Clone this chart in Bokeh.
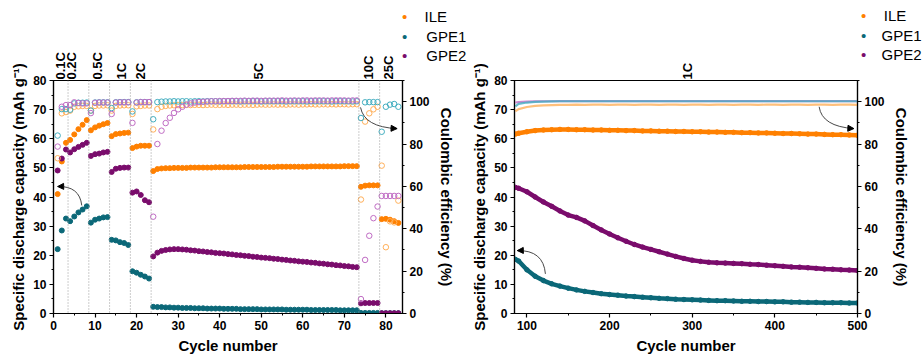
import numpy as np
from bokeh.plotting import figure
from bokeh.models import (Range1d, LinearAxis, SingleIntervalTicker, FixedTicker, Span,
                          Arrow, NormalHead)
from bokeh.layouts import row
from bokeh.embed import file_html
from bokeh.resources import INLINE

# ---------------- Left panel: rate capability (cycles 1-83) ----------------
cycles_L = list(range(1, 84))

ile_cap = [
    41.0, 52.2, 58.6,
    59.6, 61.5, 63.3, 64.8, 66.4,
    62.9, 63.9, 64.5, 65.0, 65.4,
    60.9, 61.6, 61.8, 62.0, 62.1,
    56.8, 57.3, 57.6, 57.6, 57.6,
    48.9, 49.6, 49.8, 49.9, 49.9, 50.0, 50.0, 50.0, 50.0, 50.1,
    50.1, 50.1, 50.1, 50.1, 50.1, 50.2, 50.2, 50.2, 50.2, 50.2,
    50.2, 50.2, 50.3, 50.3, 50.3, 50.3, 50.3, 50.3, 50.3, 50.3,
    50.4, 50.4, 50.4, 50.4, 50.4, 50.4, 50.4, 50.4, 50.5, 50.5,
    50.5, 50.5, 50.5, 50.5, 50.5, 50.5, 50.6, 50.6, 50.6, 50.6,
    43.5, 43.9, 44.0, 44.0, 44.0,
    32.4, 32.5, 32.2, 31.7, 31.1]

gpe1_cap = [
    22.1, 28.5, 32.6,
    31.7, 33.3, 34.7, 35.7, 36.8,
    31.2, 32.2, 32.6, 33.0, 33.1,
    25.3, 25.1, 24.5, 24.2, 23.5,
    14.5, 14.0, 13.3, 12.7, 12.0,
    2.3, 2.2, 2.2, 2.1, 2.1, 2.0, 2.0, 1.9, 1.9, 1.9,
    1.8, 1.8, 1.8, 1.7, 1.7, 1.7, 1.7, 1.6, 1.6, 1.6,
    1.6, 1.5, 1.5, 1.5, 1.5, 1.5, 1.4, 1.4, 1.4, 1.4,
    1.4, 1.4, 1.3, 1.3, 1.3, 1.3, 1.3, 1.3, 1.2, 1.2,
    1.2, 1.2, 1.2, 1.2, 1.2, 1.1, 1.1, 1.1, 1.1, 1.1,
    0.2, 0.2, 0.2, 0.2, 0.2,
    0.1, 0.1, 0.1, 0.1, 0.1]

gpe2_cap = [
    49.1, 53.2, 56.3,
    55.3, 56.4, 57.2, 57.9, 58.6,
    54.1, 54.7, 54.9, 55.3, 55.5,
    48.6, 49.7, 50.0, 50.1, 50.1,
    41.5, 41.9, 40.7, 38.9, 38.2,
    19.6, 20.9, 21.5, 21.8, 22.0, 22.1, 22.1, 22.0, 21.9, 21.7,
    21.6, 21.4, 21.3, 21.1, 21.0, 20.8, 20.7, 20.6, 20.4, 20.3,
    20.1, 20.0, 19.8, 19.7, 19.5, 19.4, 19.2, 19.1, 19.0, 18.8,
    18.7, 18.5, 18.4, 18.2, 18.1, 17.9, 17.8, 17.7, 17.5, 17.4,
    17.2, 17.1, 16.9, 16.8, 16.6, 16.5, 16.3, 16.2, 16.0, 15.9,
    3.5, 3.6, 3.6, 3.6, 3.6,
    0.1, 0.1, 0.1, 0.1, 0.1]

ile_eff = [
    73.3, 94.5, 95.1,
    95.8, 97.6, 97.8, 98.0, 98.0,
    95.8, 98.0, 98.2, 98.2, 98.3,
    95.8, 98.0, 98.2, 98.3, 98.3,
    94.2, 97.8, 98.0, 98.2, 98.2,
    86.9, 96.5, 97.6, 98.0, 98.2, 98.3, 98.4, 98.4, 98.5, 98.4,
    98.5, 98.5, 98.4, 98.5, 98.6, 98.5, 98.5, 98.6, 98.5, 98.6,
    98.6, 98.5, 98.6, 98.6, 98.5, 98.6, 98.7, 98.6, 98.6, 98.7,
    98.6, 98.7, 98.6, 98.7, 98.7, 98.6, 98.7, 98.7, 98.8, 98.7,
    98.7, 98.8, 98.7, 98.8, 98.7, 98.8, 98.8, 98.7, 98.8, 98.8,
    53.8, 90.6, 94.5, 96.4, 97.6,
    69.8, 31.3, 43.5, 43.0, 53.3]

gpe1_eff = [
    84.0, 96.5, 96.5,
    96.2, 99.2, 99.5, 99.5, 99.6,
    95.8, 99.6, 99.7, 99.7, 99.7,
    97.0, 99.7, 99.8, 99.8, 99.8,
    95.4, 99.7, 99.8, 99.8, 99.8,
    91.7, 99.8, 100.0, 100.1, 100.1, 100.2, 100.1, 100.2, 100.2, 100.1,
    100.2, 100.2, 100.1, 100.2, 100.2, 100.2, 100.1, 100.2, 100.2, 100.2,
    100.2, 100.1, 100.2, 100.2, 100.2, 100.2, 100.1, 100.2, 100.2, 100.2,
    100.2, 100.2, 100.1, 100.2, 100.2, 100.2, 100.2, 100.1, 100.2, 100.2,
    100.2, 100.2, 100.2, 100.1, 100.2, 100.2, 100.2, 100.2, 100.1, 100.2,
    92.3, 99.7, 99.8, 99.8, 99.8,
    85.8, 97.6, 98.6, 98.9, 97.6]

gpe2_eff = [
    78.8, 97.6, 98.4,
    98.4, 99.7, 99.4, 99.2, 99.2,
    94.6, 99.5, 99.6, 99.6, 99.6,
    94.2, 99.6, 99.7, 99.7, 99.7,
    90.0, 99.6, 99.8, 99.8, 99.8,
    45.7, 80.0, 86.3, 89.9, 92.4, 94.7, 96.4, 97.6, 98.6, 99.2,
    99.6, 99.8, 100.0, 100.1, 100.2, 100.2, 100.3, 100.3, 100.3, 100.4,
    100.4, 100.4, 100.5, 100.4, 100.5, 100.5, 100.4, 100.5, 100.5, 100.5,
    100.5, 100.6, 100.5, 100.5, 100.6, 100.5, 100.6, 100.6, 100.5, 100.6,
    100.6, 100.6, 100.5, 100.6, 100.6, 100.6, 100.6, 100.5, 100.6, 100.6,
    6.8, 25.3, 36.7, 45.0, 50.5,
    55.5, 55.5, 55.5, 55.5, 55.5]

rate_labels = ["0.1C", "0.2C", "0.5C", "1C", "2C", "5C", "10C", "25C"]
rate_label_x = [1.7, 4.4, 10.5, 16.3, 21.0, 49.4, 75.8, 80.6]
rate_boundaries = [3.5, 8.5, 13.5, 18.5, 23.5, 73.5, 78.5]

# ---------------- Right panel: long cycling at 1C ----------------
cycles_R = [86, 90, 100, 110, 120, 130, 140, 150, 160, 170, 180, 190, 200, 210,
            220, 230, 240, 250, 260, 270, 280, 290, 300, 310, 320, 330, 340, 350,
            360, 370, 380, 390, 400, 410, 420, 430, 440, 450, 460, 470, 480, 490, 500]

ile_cap_R = [61.6, 61.9, 62.4, 62.8, 63.0, 63.1, 63.2, 63.2, 63.1, 63.1, 63.0, 63.0,
             62.9, 62.9, 62.8, 62.8, 62.7, 62.7, 62.6, 62.6, 62.5, 62.5, 62.4, 62.4,
             62.3, 62.3, 62.2, 62.2, 62.1, 62.1, 62.0, 62.0, 61.9, 61.8, 61.8, 61.7,
             61.6, 61.6, 61.5, 61.4, 61.4, 61.3, 61.2]
gpe1_cap_R = [18.6, 18.0, 15.0, 12.8, 11.3, 10.2, 9.4, 8.7, 8.1, 7.6, 7.2, 6.8,
              6.5, 6.3, 6.0, 5.8, 5.6, 5.4, 5.2, 5.1, 4.9, 4.8, 4.7, 4.6,
              4.5, 4.4, 4.4, 4.3, 4.2, 4.2, 4.1, 4.1, 4.0, 4.0, 3.9, 3.9,
              3.8, 3.8, 3.7, 3.7, 3.7, 3.6, 3.6]
gpe2_cap_R = [43.3, 43.0, 41.8, 40.0, 38.3, 36.8, 35.2, 33.8, 33.0, 31.8, 30.2, 28.7,
              27.3, 26.0, 24.8, 23.7, 22.8, 22.0, 21.2, 20.4, 19.6, 18.9, 18.3, 17.9,
              17.6, 17.4, 17.3, 17.2, 17.1, 16.9, 16.8, 16.6, 16.4, 16.2, 16.0, 15.9,
              15.7, 15.5, 15.3, 15.2, 15.0, 14.9, 14.8]
ile_eff_R = [95.5, 96.5, 97.5, 98.0, 98.3, 98.4, 98.5, 98.5, 98.6, 98.5, 98.6, 98.6,
             98.5, 98.6, 98.6, 98.5, 98.6, 98.6, 98.5, 98.6, 98.6, 98.5, 98.6, 98.6,
             98.5, 98.6, 98.6, 98.5, 98.6, 98.6, 98.5, 98.6, 98.6, 98.5, 98.6, 98.6,
             98.5, 98.6, 98.6, 98.5, 98.6, 98.6, 98.5]
gpe1_eff_R = [97.8, 99.0, 99.6, 99.9, 100.0, 100.1, 100.2, 100.2, 100.2, 100.2, 100.2, 100.2,
              100.2, 100.2, 100.2, 100.2, 100.2, 100.2, 100.2, 100.2, 100.2, 100.2, 100.2, 100.2,
              100.2, 100.2, 100.2, 100.2, 100.2, 100.2, 100.2, 100.2, 100.2, 100.2, 100.2, 100.2,
              100.2, 100.2, 100.2, 100.2, 100.2, 100.2, 100.2]
gpe2_eff_R = [99.6, 99.8, 100.0, 100.1, 100.2, 100.2, 100.3, 100.3, 100.3, 100.3, 100.3, 100.3,
              100.3, 100.3, 100.3, 100.3, 100.3, 100.3, 100.3, 100.3, 100.3, 100.3, 100.3, 100.3,
              100.3, 100.3, 100.3, 100.3, 100.3, 100.3, 100.3, 100.3, 100.3, 100.3, 100.3, 100.3,
              100.3, 100.3, 100.3, 100.3, 100.3, 100.3, 100.3]

series_names = ["ILE", "GPE1", "GPE2"]
dark_colors = ["#FF8000", "#0B6878", "#7A0C6C"]
light_colors = ["#FFB05A", "#42AEC0", "#C06CC4"]

# legend layout (pixels): row centres, text box height, NBSP padding counts
NBSP = "\u00a0"
LEG_ROW_Y = [18, 38, 57]
TXT_H = 20
TXT_C = 6
leg1_pad = {"dot": 1, "ILE": 16, "GPE1": 21, "GPE2": 21}
leg2_pad = {"dot": 3, "ILE": 18, "GPE1": 22, "GPE2": 22}

FONT = "Liberation Sans"
FRAME_TOP = 80


def style_axis(ax, label_standoff=2):
    ax.axis_line_color = "black"
    ax.axis_line_width = 1.2
    ax.major_tick_line_color = "black"
    ax.major_tick_line_width = 1.2
    ax.minor_tick_line_color = "black"
    ax.minor_tick_line_width = 1
    ax.major_tick_out = 4
    ax.major_tick_in = 0
    ax.minor_tick_out = 2
    ax.minor_tick_in = 0
    ax.major_label_text_font = FONT
    ax.major_label_text_font_style = "bold"
    ax.major_label_text_font_size = "12px"
    ax.major_label_text_color = "black"
    ax.major_label_standoff = 3
    ax.axis_label_text_font = FONT
    ax.axis_label_text_font_style = "bold"
    ax.axis_label_text_font_size = "15px"
    ax.axis_label_text_color = "black"
    ax.axis_label_standoff = label_standoff


def make_fig(width, x_range, bl, br, xtick):
    p = figure(width=width, height=356, x_range=x_range, y_range=Range1d(0, 80),
               output_backend="svg", toolbar_location=None,
               min_border_left=bl, min_border_right=br,
               min_border_top=FRAME_TOP, min_border_bottom=43)
    p.title.visible = False
    p.xgrid.visible = False
    p.ygrid.visible = False
    p.outline_line_color = "black"
    p.outline_line_width = 1.2
    p.background_fill_color = "white"
    p.border_fill_color = "white"
    p.extra_y_ranges = {"eff": Range1d(0, 110)}
    p.xaxis.ticker = SingleIntervalTicker(interval=xtick, num_minor_ticks=2)
    p.yaxis.ticker = SingleIntervalTicker(interval=10, num_minor_ticks=2)
    p.xaxis.axis_label = "Cycle number"
    p.yaxis.axis_label = "Specific discharge capacity (mAh g\u207b\u00b9)"
    style_axis(p.xaxis[0], 4)
    style_axis(p.yaxis[0], 3)
    ax_r = LinearAxis(y_range_name="eff", axis_label="Coulombic efficiency (%)",
                      ticker=SingleIntervalTicker(interval=20, num_minor_ticks=2))
    style_axis(ax_r, 5)
    p.add_layout(ax_r, "right")
    return p


def text_axis(p, xs, labels, size, color, style="normal", orient="horizontal",
              standoff=1):
    ax = LinearAxis(ticker=FixedTicker(ticks=xs),
                    major_label_overrides={x: t for x, t in zip(xs, labels)},
                    major_label_orientation=orient)
    ax.axis_line_color = None
    ax.major_tick_line_color = None
    ax.minor_tick_line_color = None
    ax.major_tick_out = 0
    ax.major_tick_in = 0
    ax.major_label_standoff = standoff
    ax.major_label_text_font = FONT
    ax.major_label_text_font_style = style
    ax.major_label_text_font_size = size
    ax.major_label_text_color = color
    p.add_layout(ax, "above")


def add_legend(p, edge_x, pads, rate_axis_size):
    # stacked "above" text rows; the outer edge moves up by each row's size
    edge = FRAME_TOP - rate_axis_size
    for i in [2, 1, 0]:
        name, c = series_names[i], dark_colors[i]
        bottom = LEG_ROW_Y[i] + TXT_C
        s = int(round(edge - bottom))
        text_axis(p, [edge_x], [NBSP * pads[name] + name], "15px", "black", standoff=s)
        edge -= s + TXT_H
        s2 = int(round(edge - bottom))
        text_axis(p, [edge_x], [NBSP * pads["dot"] + "\u2022"], "15px", c, standoff=s2)
        edge -= s2 + TXT_H


def curved_arrow(p, x0, y0, cx, cy, x1, y1, xs, ys, rng="default"):
    p.quadratic(x0=[x0], y0=[y0], cx=[cx], cy=[cy], x1=[x1], y1=[y1],
                line_color="#333333", line_width=0.9, y_range_name=rng)
    p.add_layout(Arrow(end=NormalHead(size=6, fill_color="black", line_color="black"),
                       x_start=xs, y_start=ys, x_end=x1, y_end=y1,
                       line_color="#333333", line_width=0.9, y_range_name=rng))


# ---------- Left figure ----------
p1 = make_fig(468, Range1d(0, 84), 53, 66, 10)
for b in rate_boundaries:
    p1.add_layout(Span(location=b, dimension="height", line_color="#9a9a9a",
                       line_dash="1 2", line_width=1))
for caps, c in zip([ile_cap, gpe1_cap, gpe2_cap], dark_colors):
    p1.scatter(cycles_L, caps, marker="circle", size=5, fill_color=c, line_color=c)
for effs, c in zip([ile_eff, gpe1_eff, gpe2_eff], light_colors):
    p1.scatter(cycles_L, effs, marker="circle", size=5.5, fill_color=None,
               line_color=c, line_width=1, y_range_name="eff")
text_axis(p1, rate_label_x, rate_labels, "13px", "black", style="bold",
          orient="vertical")
add_legend(p1, 83.999, leg1_pad, 31)
curved_arrow(p1, 6.8, 37.1, 6.3, 43.8, 1.0, 43.6, 2.6, 43.65)
curved_arrow(p1, 73.9, 97.3, 74.8, 88.0, 82.7, 87.3, 81.0, 87.45, "eff")

# ---------- Right figure ----------
p2 = make_fig(454, Range1d(85, 500), 43, 65, 100)
for effs, c in zip([ile_eff_R, gpe2_eff_R, gpe1_eff_R],
                   [light_colors[0], light_colors[2], light_colors[1]]):
    p2.line(cycles_R, effs, line_color=c, line_width=2.2, line_alpha=0.8,
            y_range_name="eff")
for caps, c in zip([ile_cap_R, gpe1_cap_R, gpe2_cap_R], dark_colors):
    p2.line(cycles_R, caps, line_color=c, line_width=4.5)
    p2.scatter(cycles_R, caps, marker="circle", size=4.5, fill_color=c, line_color=c)
text_axis(p2, [294], ["1C"], "13px", "black", style="bold", orient="vertical")
add_legend(p2, 499.999, leg2_pad, 20)
curved_arrow(p2, 122.4, 13.6, 120.0, 21.8, 88.4, 21.6, 96.0, 21.65)
curved_arrow(p2, 453.6, 97.6, 457.0, 88.3, 495.6, 87.3, 488.0, 87.45, "eff")

layout = row(p1, p2)
open("out.html", "w").write(file_html(layout, INLINE))
